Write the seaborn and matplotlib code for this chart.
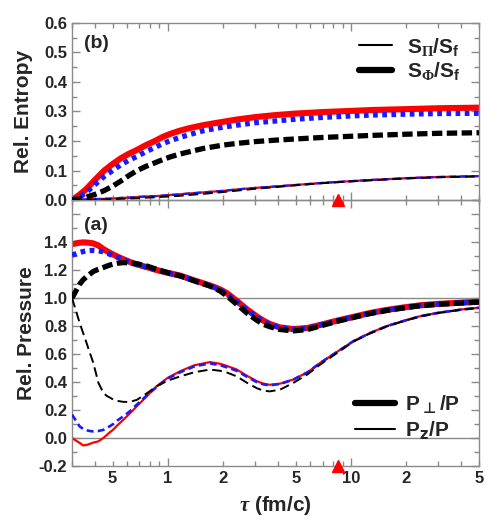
import matplotlib
matplotlib.use("Agg")
import matplotlib.pyplot as plt
import seaborn as sns
from matplotlib.lines import Line2D
from matplotlib.ticker import FixedLocator, FixedFormatter, MultipleLocator

# ================= DATOS =================
# Panel (b): entropia relativa
TAU_S = [0.3, 0.33, 0.36, 0.4, 0.45, 0.5, 0.55, 0.61, 0.68, 0.76, 0.85, 0.94, 1.03, 1.15, 1.3, 1.57, 2.0, 2.4, 3.0, 3.9, 5.0, 7.0, 10, 13, 20, 30, 50]
S_PHI_RED = [0.0, 0.018, 0.038, 0.068, 0.10, 0.122, 0.14, 0.156, 0.17, 0.186, 0.20, 0.214, 0.224, 0.234, 0.243, 0.254, 0.265, 0.273, 0.281, 0.288, 0.293, 0.298, 0.302, 0.305, 0.308, 0.311, 0.313]
S_PHI_BLUE = [0.0, 0.010, 0.026, 0.052, 0.08, 0.100, 0.118, 0.134, 0.148, 0.164, 0.178, 0.191, 0.201, 0.211, 0.221, 0.235, 0.247, 0.254, 0.262, 0.268, 0.274, 0.280, 0.285, 0.288, 0.291, 0.293, 0.294]
S_PHI_BLACK = [0.0, 0.004, 0.010, 0.019, 0.032, 0.047, 0.063, 0.082, 0.10, 0.114, 0.126, 0.137, 0.146, 0.155, 0.163, 0.175, 0.186, 0.192, 0.198, 0.203, 0.207, 0.212, 0.216, 0.219, 0.223, 0.226, 0.228]
S_PI_RED = [0.0, 0.001, 0.002, 0.003, 0.004, 0.005, 0.007, 0.008, 0.010, 0.012, 0.013, 0.015, 0.017, 0.019, 0.022, 0.026, 0.031, 0.036, 0.041, 0.046, 0.051, 0.058, 0.064, 0.068, 0.074, 0.078, 0.081]
S_PI_BLUE = [0.0, 0.001, 0.002, 0.003, 0.004, 0.005, 0.007, 0.008, 0.010, 0.012, 0.013, 0.015, 0.017, 0.019, 0.022, 0.026, 0.031, 0.036, 0.041, 0.046, 0.051, 0.058, 0.064, 0.068, 0.074, 0.078, 0.081]
S_PI_BLACK = [0.0, 0.0, 0.001, 0.001, 0.002, 0.003, 0.004, 0.005, 0.006, 0.008, 0.009, 0.011, 0.012, 0.014, 0.017, 0.021, 0.027, 0.032, 0.038, 0.044, 0.050, 0.057, 0.063, 0.067, 0.073, 0.077, 0.080]

# Panel (a): presion relativa
TAU_P = [0.3, 0.33, 0.345, 0.36, 0.375, 0.392, 0.418, 0.445, 0.465, 0.484, 0.504, 0.53, 0.572, 0.62, 0.677,
         0.77, 0.87, 1.0, 1.17, 1.4, 1.7, 1.93, 2.1, 2.38, 2.7, 3.07, 3.33, 3.6, 4.1, 4.85, 5.8, 6.8, 8.5,
         10.3, 12.7, 15.7, 20, 24, 30, 40, 50]
P_PERP_RED = [1.385, 1.395, 1.397, 1.396, 1.394, 1.390, 1.375, 1.349, 1.335, 1.322, 1.310, 1.296, 1.277, 1.258, 1.240,
              1.220, 1.200, 1.180, 1.160, 1.125, 1.090, 1.062, 1.035, 0.980, 0.920, 0.867, 0.838, 0.815, 0.790, 0.778, 0.786, 0.808, 0.840,
              0.865, 0.893, 0.915, 0.935, 0.948, 0.958, 0.967, 0.973]
P_PERP_BLUE = [1.306, 1.325, 1.332, 1.337, 1.339, 1.340, 1.337, 1.330, 1.320, 1.312, 1.303, 1.292, 1.275, 1.257, 1.239,
               1.219, 1.199, 1.179, 1.159, 1.124, 1.089, 1.058, 1.030, 0.975, 0.915, 0.862, 0.834, 0.812, 0.788, 0.776, 0.785, 0.807, 0.839,
               0.864, 0.892, 0.914, 0.934, 0.947, 0.957, 0.966, 0.972]
P_PERP_BLACK = [1.0, 1.098, 1.13, 1.152, 1.17, 1.19, 1.205, 1.218, 1.228, 1.236, 1.242, 1.248, 1.253, 1.250, 1.245,
                1.228, 1.205, 1.180, 1.158, 1.122, 1.085, 1.050, 1.015, 0.955, 0.893, 0.840, 0.812, 0.795, 0.775, 0.765, 0.775, 0.800, 0.835,
                0.861, 0.889, 0.911, 0.932, 0.945, 0.955, 0.964, 0.971]
P_Z_RED = [0.0, -0.035, -0.053, -0.050, -0.042, -0.033, -0.024, 0.0, 0.022, 0.042, 0.06, 0.09, 0.13, 0.175, 0.226,
           0.30, 0.37, 0.43, 0.477, 0.52, 0.542, 0.530, 0.515, 0.489, 0.445, 0.405, 0.388, 0.380, 0.388, 0.418, 0.470, 0.537, 0.620,
           0.692, 0.750, 0.800, 0.842, 0.871, 0.895, 0.918, 0.931]
P_Z_BLUE = [0.167, 0.083, 0.065, 0.055, 0.05, 0.047, 0.05, 0.058, 0.072, 0.085, 0.10, 0.125, 0.155, 0.19, 0.238,
            0.305, 0.365, 0.425, 0.470, 0.512, 0.533, 0.520, 0.505, 0.480, 0.438, 0.398, 0.383, 0.376, 0.386, 0.417, 0.469, 0.536, 0.619,
            0.691, 0.749, 0.799, 0.841, 0.870, 0.894, 0.917, 0.930]
P_Z_BLACK = [1.0, 0.824, 0.75, 0.68, 0.61, 0.537, 0.394, 0.322, 0.30, 0.288, 0.274, 0.265, 0.258, 0.258, 0.272,
             0.32, 0.37, 0.41, 0.44, 0.47, 0.489, 0.480, 0.468, 0.440, 0.395, 0.355, 0.338, 0.333, 0.345, 0.394, 0.455, 0.525, 0.612,
             0.688, 0.747, 0.797, 0.840, 0.869, 0.893, 0.916, 0.929]

TAU_MARK = 8.5
XTICK_MAJOR = [1, 10]
XTICK_MAJOR_LABELS = ["1", "10"]
XTICK_MINOR = [0.3, 0.4, 0.5, 0.6, 0.7, 0.8, 0.9, 2, 3, 4, 5, 6, 7, 8, 9, 20, 30, 40, 50]
XTICK_MINOR_LABELS = ["", "", "5", "", "", "", "", "2", "", "", "5", "", "", "", "", "2", "", "", "5"]
YTICKS_P = [-0.2, 0.0, 0.2, 0.4, 0.6, 0.8, 1.0, 1.2, 1.4, 1.6]
YTICKS_P_LABELS = ["-0.2", "0.0", "0.2", "0.4", "0.6", "0.8", "1.0", "1.2", "1.4", ""]

# ================= ESTILO =================
sns.set_style("ticks")
plt.rcParams['font.family'] = ['Liberation Sans', 'DejaVu Sans']
plt.rcParams['font.weight'] = 'bold'
plt.rcParams['axes.labelweight'] = 'bold'
plt.rcParams['mathtext.fontset'] = 'custom'
plt.rcParams['mathtext.rm'] = 'Liberation Sans:bold'
plt.rcParams['mathtext.bf'] = 'Liberation Sans:bold'
plt.rcParams['mathtext.it'] = 'Liberation Serif:italic'
plt.rcParams['mathtext.tt'] = 'Liberation Serif'
plt.rcParams['lines.scale_dashes'] = False

GRIS = "#8a8a8a"
ROJO = "#ff0000"
AZUL = "#1a1aff"
THIN = 1.5


def linea(ax, x, y, color, lw, dashes=None, z=2):
    ls = (0, dashes) if dashes else '-'
    sns.lineplot(x=x, y=y, ax=ax, color=color, lw=lw, linestyle=ls, estimator=None,
                 sort=False, legend=False, zorder=z, solid_capstyle='butt', dash_capstyle='butt')


def estilo_ejes(ax):
    ax.set_xscale('log')
    ax.set_xlim(0.3, 50)
    for s in ax.spines.values():
        s.set_color(GRIS)
        s.set_linewidth(1.0)
    ax.tick_params(which='both', direction='in', top=True, right=True, color=GRIS, labelsize=12)
    ax.tick_params(which='major', length=6, width=1)
    ax.tick_params(which='minor', length=3.5, width=1)
    ax.xaxis.set_major_locator(FixedLocator(XTICK_MAJOR))
    ax.xaxis.set_major_formatter(FixedFormatter(XTICK_MAJOR_LABELS))
    ax.xaxis.set_minor_locator(FixedLocator(XTICK_MINOR))
    ax.xaxis.set_minor_formatter(FixedFormatter(XTICK_MINOR_LABELS))


fig = plt.figure(figsize=(4.98, 5.21), dpi=100)
ax_b = fig.add_axes([0.1446, 0.6161, 0.8172, 0.3398])
ax_a = fig.add_axes([0.1446, 0.1056, 0.8172, 0.5105])
ax_b.set_zorder(3)
ax_b.patch.set_alpha(0)

# ---- panel (b) ----
estilo_ejes(ax_b)
linea(ax_b, TAU_S, S_PHI_RED, ROJO, 4.4, z=2)
linea(ax_b, TAU_S, S_PHI_BLUE, AZUL, 3.8, (3.4, 3.2), z=3)
linea(ax_b, TAU_S, S_PHI_BLACK, 'black', 3.8, (7.5, 3.2), z=4)
linea(ax_b, TAU_S, S_PI_RED, ROJO, 1.6, z=2)
linea(ax_b, TAU_S, S_PI_BLUE, AZUL, 1.6, (5, 3), z=3)
linea(ax_b, TAU_S, S_PI_BLACK, 'black', 1.4, (7, 3.5), z=4)
ax_b.plot(TAU_MARK, 0.0, marker='^', color=ROJO, ms=9, clip_on=False, zorder=10, ls='none')
ax_b.set_ylim(0, 0.6)
ax_b.yaxis.set_major_locator(MultipleLocator(0.1))
ax_b.yaxis.set_minor_locator(MultipleLocator(0.05))
ax_b.yaxis.set_major_formatter(plt.FormatStrFormatter('%.1f'))
ax_b.tick_params(axis='x', which='both', labelbottom=False)
ax_b.set_ylabel("Rel. Entropy", fontsize=15, labelpad=8)
ax_b.set_xlabel("")
ax_b.text(0.03, 0.93, "(b)", transform=ax_b.transAxes, fontsize=14, fontweight='bold', va='top')
h_b = [Line2D([], [], color='black', lw=THIN), Line2D([], [], color='black', lw=4.5)]
ax_b.legend(h_b, [r"S$_{\mathtt{\Pi}}$/S$_{\mathbf{f}}$", r"S$_{\mathtt{\Phi}}$/S$_{\mathbf{f}}$"], loc='upper right',
            bbox_to_anchor=(1.0, 1.035), frameon=False, fontsize=15, handlelength=1.6,
            handletextpad=0.7, labelspacing=0.12, borderaxespad=0.5)

# ---- panel (a) ----
estilo_ejes(ax_a)
ax_a.axhline(1.0, color=GRIS, lw=1.0, zorder=1)
ax_a.axhline(0.0, color=GRIS, lw=1.0, zorder=1)
linea(ax_a, TAU_P, P_PERP_RED, ROJO, 4.4, z=2)
linea(ax_a, TAU_P, P_PERP_BLUE, AZUL, 3.8, (3.4, 3.2), z=3)
linea(ax_a, TAU_P, P_PERP_BLACK, 'black', 3.8, (7.5, 3.2), z=4)
linea(ax_a, TAU_P, P_Z_RED, ROJO, 1.6, z=2)
linea(ax_a, TAU_P, P_Z_BLUE, AZUL, 1.9, (5, 3), z=3)
linea(ax_a, TAU_P, P_Z_BLACK, 'black', 1.4, (7, 3.5), z=4)
ax_a.plot(TAU_MARK, -0.2, marker='^', color=ROJO, ms=9, clip_on=False, zorder=10, ls='none')
ax_a.set_ylim(-0.2, 1.7)
ax_a.yaxis.set_major_locator(FixedLocator(YTICKS_P))
ax_a.yaxis.set_major_formatter(FixedFormatter(YTICKS_P_LABELS))
ax_a.yaxis.set_minor_locator(MultipleLocator(0.1))
ax_a.set_ylabel("Rel. Pressure", fontsize=15, labelpad=2)
ax_a.set_xlabel(r"$\tau$ (fm/c)", fontsize=15, labelpad=6)
ax_a.text(0.03, 0.935, "(a)", transform=ax_a.transAxes, fontsize=14, fontweight='bold', va='top')
h_a = [Line2D([], [], color='black', lw=4.5), Line2D([], [], color='black', lw=THIN)]
leg_a = ax_a.legend(h_a, [r"P$_{\bot}$/P", r"P$_{\mathbf{z}}$/P"], loc='lower right',
                    bbox_to_anchor=(1.0, 0.02), frameon=False, fontsize=15, handlelength=1.9,
                    handletextpad=0.5, labelspacing=0.15, borderaxespad=0.5)
for t in leg_a.get_texts():
    t.set_math_fontfamily('dejavusans')

fig.savefig("out.png", dpi=100)
